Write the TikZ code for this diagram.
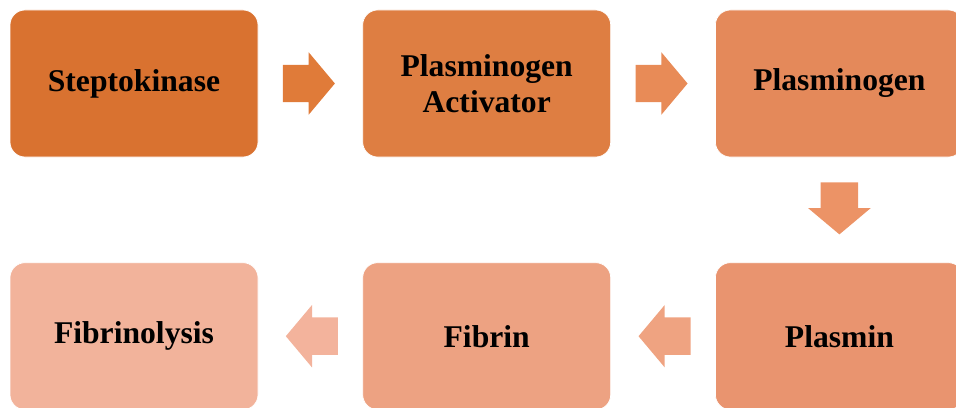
\documentclass[tikz,border=0pt]{standalone}
\usepackage{fontspec}
\setmainfont{Liberation Serif}
\usepackage{tikz}
\usetikzlibrary{
    positioning,
    shapes.arrows,
    calc
}
\definecolor{fiboneshade}{RGB}{217,114,48}
\definecolor{fibtwoshade}{RGB}{222,126,66}
\definecolor{fibthreeshade}{RGB}{228,137,90}
\definecolor{fibfourshade}{RGB}{233,148,111}
\definecolor{fibfiveshade}{RGB}{237,162,130}
\definecolor{fibsixshade}{RGB}{242,179,155}
\definecolor{arrowone}{RGB}{224,123,57}
\definecolor{arrowtwo}{RGB}{232,139,87}
\definecolor{arrowthree}{RGB}{236,147,102}
\definecolor{arrowfour}{RGB}{239,163,129}
\definecolor{arrowfive}{RGB}{243,179,156}

\begin{document}
\begin{tikzpicture}[
    node distance=3.15cm and 3.12cm,
    stage/.style={
        draw=white,
        line width=0.6pt,
        rounded corners=0.45cm,
        align=center,
        minimum width=7.44cm,
        minimum height=4.41cm,
        inner sep=0pt,
        font=\fontsize{27}{31}\selectfont\bfseries
    },
    blockarrow/.style={
        single arrow,
        draw=none,
        inner xsep=0pt,
        inner ysep=0.555cm,
        minimum height=1.56cm,
        single arrow head extend=0.375cm,
        single arrow tip angle=100
    }
]
\clip (0,0) rectangle (28.68,-12.24);
\useasboundingbox (0,0) rectangle (28.68,-12.24);

\node[stage, fill=fiboneshade] (kinase) at (4.02,-2.505) {Steptokinase};

\node[
    stage,
    fill=fibtwoshade,
    right=of kinase
] (activator) {Plasminogen\\Activator};

\node[
    stage,
    fill=fibthreeshade,
    right=of activator
] (plasminogen) {Plasminogen};

\node[
    stage,
    fill=fibfourshade,
    below=of plasminogen
] (plasmin) {Plasmin};

\node[
    stage,
    fill=fibfiveshade,
    left=of plasmin
] (fibrin) {Fibrin};

\node[
    stage,
    fill=fibsixshade,
    left=of fibrin
] (lysis) {Fibrinolysis};

% the arrow's centre anchor sits ahead of its middle, so pull it back
\node[blockarrow, fill=arrowone] (step1)
    at ($(kinase.east)!0.5!(activator.west) + (-0.28,0)$) {};
\node[blockarrow, fill=arrowtwo] (step2)
    at ($(activator.east)!0.5!(plasminogen.west) + (-0.28,0)$) {};
\node[blockarrow, fill=arrowthree, rotate=-90] (step3)
    at ($(plasminogen.south)!0.5!(plasmin.north) + (0,0.28)$) {};
\node[blockarrow, fill=arrowfour, rotate=180] (step4)
    at ($(plasmin.west)!0.5!(fibrin.east) + (0.28,0)$) {};
\node[blockarrow, fill=arrowfive, rotate=180] (step5)
    at ($(fibrin.west)!0.5!(lysis.east) + (0.28,0)$) {};

\end{tikzpicture}
\end{document}
